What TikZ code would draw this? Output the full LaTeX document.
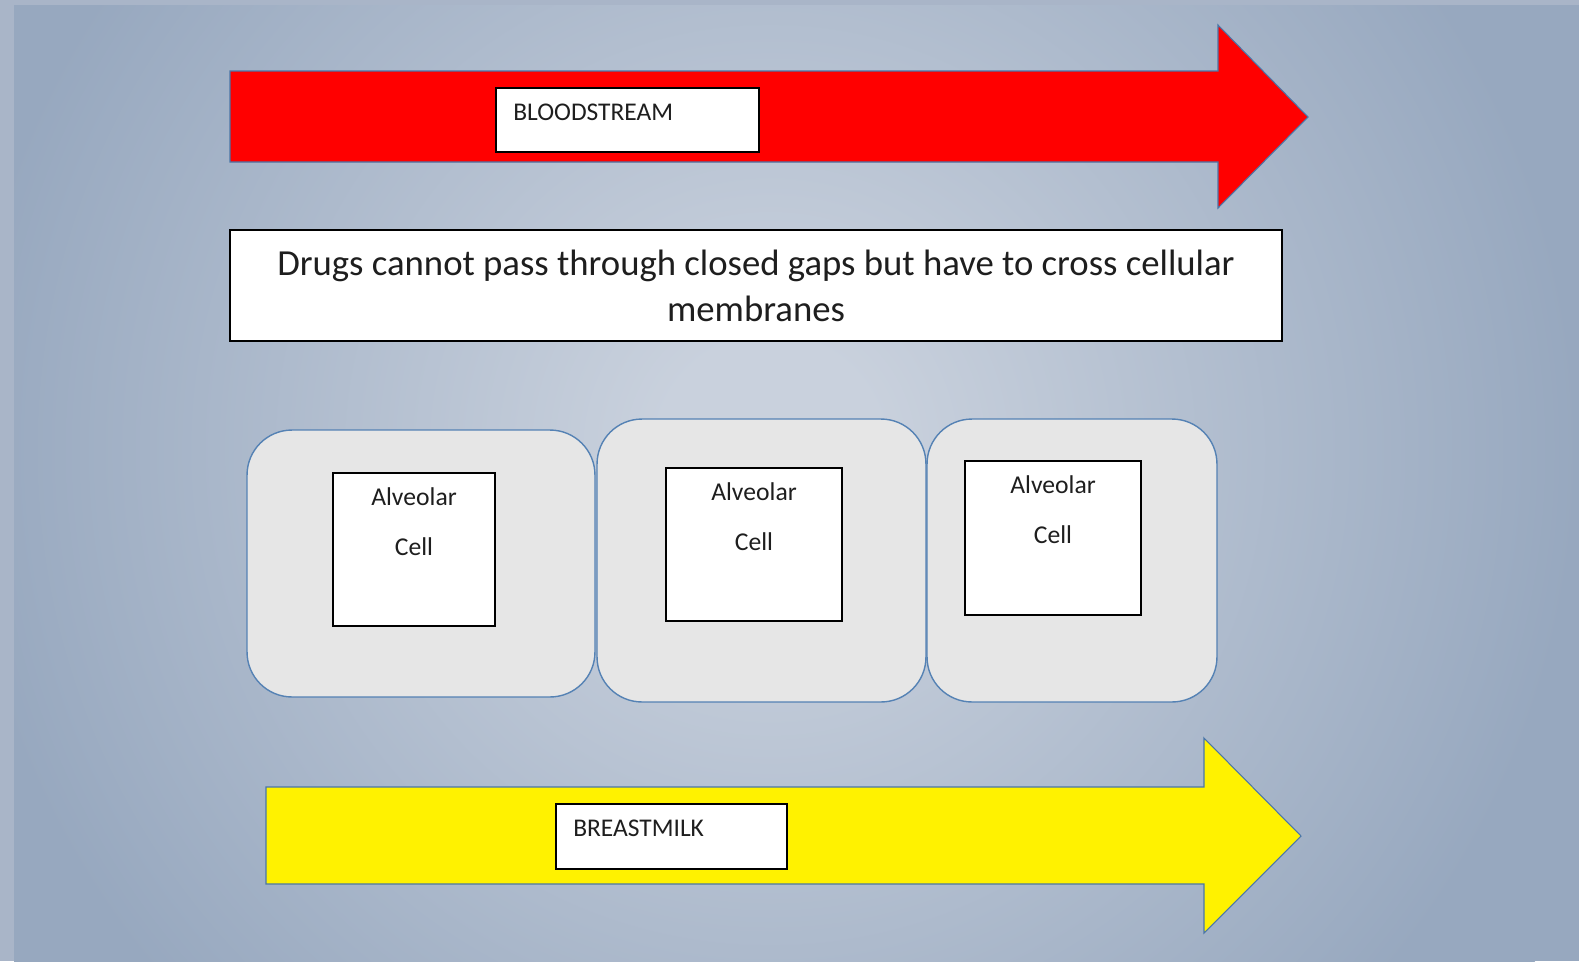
\documentclass[tikz,border=0pt]{standalone}
\usepackage{fontspec}
\setmainfont{Carlito}
\usepackage{xcolor}
\usetikzlibrary{positioning}

\definecolor{bgframe}{HTML}{A9B5C8}
\definecolor{bgcenter}{HTML}{C9D1DD}
\definecolor{bgedge}{HTML}{97A8BF}
\definecolor{arrowedge}{HTML}{4A76A8}
\definecolor{membraneblue}{HTML}{5582B4}
\definecolor{cellgray}{HTML}{E6E6E6}
\definecolor{inktext}{HTML}{1E1E1E}

% soft slide glow (25bp = circle rim)
\pgfdeclareradialshading{slideglow}{\pgfpoint{0bp}{0bp}}{color(0bp)=(bgcenter); color(3bp)=(bgcenter); color(22bp)=(bgedge); color(50bp)=(bgedge)}

\begin{document}
\begin{tikzpicture}[x=0.02cm, y=-0.02cm,
    labelbox/.style={draw=black, fill=white, line width=0.9pt, inner ysep=0pt, inner xsep=0.35cm,
        align=left, text height=0.66cm, text depth=0.62cm, text=inktext,
        font=\fontsize{14.5}{17}\selectfont},
    notebox/.style={draw=black, fill=white, line width=0.9pt, align=center, text=inktext,
        minimum width=21.04cm, minimum height=2.22cm,
        font=\fontsize{20.9}{26.1}\selectfont},
    membrane/.style={draw=membraneblue, fill=cellgray, line width=0.8pt, rounded corners=0.9cm},
    cellbox/.style={draw=black, fill=white, line width=0.9pt},
    celltext/.style={inner sep=0pt, align=center, text=inktext, font=\fontsize{14.6}{28.3}\selectfont},
    flow/.style={draw=arrowedge, line width=0.6pt}]

    % Fixed page size and background
    \useasboundingbox (0,0) rectangle (1579,961);
    \fill[bgframe] (0,0) rectangle (1579,961);
    \begin{scope}
        \clip (14,5) rectangle (1579,961);
        \fill[bgedge] (14,5) rectangle (1579,961);
        \shade[shading=slideglow] (770,450) circle (920);
    \end{scope}

    % Top arrow: bloodstream
    \filldraw[flow, fill=red] (230,71) -- (1218,71) -- (1218,25) -- (1308,117)
        -- (1218,208) -- (1218,162) -- (230,162) -- cycle;
    \node[labelbox, anchor=north west, text width=4.56cm] (blood) at (495,87) {BLOODSTREAM};

    % Statement box
    \node[notebox] (note) at (756,285.5)
        {Drugs cannot pass through closed gaps but have to cross cellular\\membranes};

    % Membrane layer: three alveolar cells
    \node[membrane, minimum width=6.96cm, minimum height=5.34cm] (membraneA) at (421,563.5) {};
    \node[membrane, minimum width=6.58cm, minimum height=5.66cm] (membraneB) at (761.5,560.5) {};
    \node[membrane, minimum width=5.80cm, minimum height=5.66cm] (membraneC) at (1072,560.5) {};

    \node[cellbox, minimum width=3.24cm, minimum height=3.06cm] (cellA) at (414,549.5) {};
    \node[cellbox, minimum width=3.52cm, minimum height=3.06cm] (cellB) at (754,544.5) {};
    \node[cellbox, minimum width=3.52cm, minimum height=3.08cm] (cellC) at (1053,538) {};

    \node[celltext, below=0.3cm of cellA.north] (cellAtext) {Alveolar\\Cell};
    \node[celltext, below=0.3cm of cellB.north] (cellBtext) {Alveolar\\Cell};
    \node[celltext, below=0.3cm of cellC.north] (cellCtext) {Alveolar\\Cell};

    % Bottom arrow: breastmilk
    \filldraw[flow, fill=yellow] (266,787) -- (1204,787) -- (1204,738) -- (1301,836)
        -- (1204,933) -- (1204,884) -- (266,884) -- cycle;
    \node[labelbox, anchor=north west, text width=3.92cm, text depth=0.64cm] (milk) at (555,803) {BREASTMILK};

\end{tikzpicture}
\end{document}
